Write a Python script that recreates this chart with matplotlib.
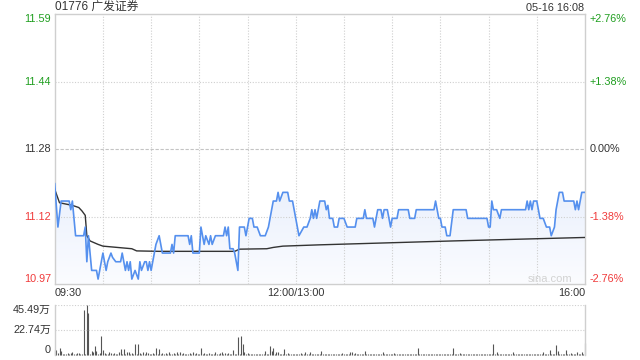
import numpy as np
import matplotlib.pyplot as plt
from matplotlib.patches import Polygon
from matplotlib.colors import LinearSegmentedColormap

plt.rcParams['font.family'] = ['Liberation Sans', 'Noto Sans CJK SC']

prev_close = 11.28
title_txt = '01776 广发证券'
stamp_txt = '05-16 16:08'

# minutes from 09:30 (0..330, 12:00/13:00 = 150)
price_t = [0, 2, 4, 9, 10, 11, 12, 13, 18, 19, 20, 21, 23, 26, 27, 28, 30, 32, 33, 35,
           36, 38, 41, 42, 44, 45, 46, 47, 48, 50, 52, 53, 54, 56, 57, 58, 59, 60, 62, 63,
           65, 66, 67, 72, 73, 74, 75, 82, 83, 84, 85, 86, 90, 91, 93, 94, 96, 97, 98, 100,
           105, 106, 107, 108, 109, 111, 112, 114, 115, 118, 119, 121, 123, 124, 126, 128, 131, 133, 134, 136,
           138, 139, 140, 142, 145, 146, 148, 150, 152, 155, 157, 159, 160, 161, 162, 163, 165, 168, 169, 170,
           171, 173, 174, 176, 177, 180, 182, 187, 188, 192, 193, 194, 198, 199, 201, 203, 204, 205, 207, 209,
           210, 213, 214, 220, 221, 224, 225, 236, 237, 238, 239, 240, 241, 243, 244, 246, 248, 256, 257, 269,
           270, 271, 272, 273, 275, 277, 278, 293, 294, 295, 296, 297, 298, 300, 301, 302, 304, 306, 308, 309,
           311, 312, 313, 314, 316, 317, 323, 324, 325, 326, 327, 328, 330]
price_v = [11.20, 11.10, 11.16, 11.16, 11.14, 11.16, 11.12, 11.08, 11.08, 11.10, 11.02, 11.08, 11.00, 11.00, 10.98, 11.00, 11.04, 11.00, 11.02, 11.04,
           11.03, 11.02, 11.02, 11.04, 11.00, 11.02, 11.00, 11.02, 10.98, 11.00, 10.98, 11.02, 11.00, 11.02, 11.02, 11.00, 11.02, 11.00, 11.04, 11.06,
           11.08, 11.06, 11.04, 11.04, 11.06, 11.04, 11.08, 11.08, 11.08, 11.06, 11.08, 11.04, 11.04, 11.10, 11.06, 11.08, 11.06, 11.08, 11.06, 11.08,
           11.08, 11.10, 11.08, 11.10, 11.05, 11.05, 11.04, 11.00, 11.10, 11.10, 11.08, 11.12, 11.12, 11.10, 11.10, 11.08, 11.08, 11.10, 11.12, 11.16,
           11.16, 11.18, 11.16, 11.18, 11.18, 11.16, 11.16, 11.12, 11.08, 11.10, 11.10, 11.12, 11.14, 11.12, 11.14, 11.12, 11.16, 11.16, 11.14, 11.15,
           11.12, 11.12, 11.10, 11.10, 11.12, 11.12, 11.10, 11.10, 11.12, 11.12, 11.14, 11.12, 11.12, 11.10, 11.14, 11.14, 11.12, 11.14, 11.14, 11.10,
           11.12, 11.12, 11.14, 11.14, 11.12, 11.12, 11.14, 11.14, 11.16, 11.14, 11.12, 11.12, 11.10, 11.10, 11.08, 11.08, 11.14, 11.14, 11.12, 11.12,
           11.10, 11.10, 11.16, 11.14, 11.14, 11.12, 11.14, 11.14, 11.16, 11.14, 11.16, 11.14, 11.16, 11.16, 11.14, 11.12, 11.12, 11.10, 11.10, 11.08,
           11.10, 11.14, 11.16, 11.18, 11.18, 11.16, 11.16, 11.14, 11.16, 11.14, 11.16, 11.18, 11.18]

avg_t = [0, 3, 11, 15, 17, 19, 20, 22, 27, 30, 48, 51, 65, 112, 115, 132, 136, 142, 165, 248, 330]
avg_v = [11.187, 11.156, 11.15, 11.145, 11.137, 11.127, 11.08, 11.068, 11.06, 11.056, 11.05, 11.045, 11.044, 11.044,
         11.049, 11.05, 11.053, 11.056, 11.059, 11.068, 11.076]

# volume per minute, 万股
vol = [4.2, 4.2, 1.5, 6.7, 4.0, 0.8, 0.6, 1.0, 2.0, 1.1,
       2.0, 3.0, 0.9, 1.2, 2.0, 2.0, 1.0, 0.8, 40.6, 1.0,
       45.49, 38.5, 1.2, 4.0, 3.0, 8.2, 3.6, 1.0, 1.5, 17.3,
       4.8, 1.8, 0.7, 1.2, 3.0, 1.5, 0.8, 1.5, 0.9, 1.0,
       3.0, 5.8, 1.0, 5.8, 1.2, 2.5, 2.5, 0.9, 1.8, 1.0,
       10.3, 1.1, 10.3, 2.0, 1.0, 2.5, 1.1, 3.0, 1.8, 0.9,
       1.0, 1.8, 0.8, 6.7, 1.0, 5.8, 0.8, 1.5, 0.9, 1.8,
       1.0, 2.5, 0.8, 1.0, 1.8, 0.9, 2.7, 1.0, 3.0, 0.8,
       1.8, 0.7, 1.2, 0.9, 1.5, 0.8, 2.5, 1.0, 1.8, 0.7,
       0.9, 6.0, 1.0, 1.5, 0.8, 0.9, 1.5, 0.7, 1.2, 0.9,
       2.5, 0.8, 1.0, 1.5, 2.5, 0.9, 1.8, 0.8, 1.5, 0.9,
       1.0, 4.8, 0.8, 1.0, 16.7, 1.2, 17.6, 10.3, 3.0, 0.9,
       1.8, 0.8, 1.0, 0.7, 1.2, 0.9, 1.0, 0.8, 1.1, 0.7,
       0.9, 4.0, 0.8, 1.0, 8.5, 3.6, 6.7, 1.0, 2.7, 3.0,
       1.0, 0.8, 1.2, 5.8, 0.9, 1.5, 0.8, 1.0, 0.7, 0.9,
       1.2, 0.8, 1.0, 2.0, 0.9, 0.8, 3.0, 1.0, 0.7, 3.0,
       0.9, 1.0, 0.8, 1.2, 0.9, 0.7, 4.0, 1.0, 0.8, 0.9,
       1.1, 0.7, 0.9, 1.0, 0.8, 1.2, 0.9, 0.7, 1.0, 2.0,
       0.8, 1.0, 0.9, 1.2, 3.0, 3.0, 0.8, 2.0, 1.0, 0.7,
       0.9, 1.0, 1.2, 4.0, 0.8, 0.9, 1.0, 0.7, 1.1, 0.8,
       0.9, 1.0, 0.8, 1.2, 3.0, 0.9, 0.7, 1.0, 0.8, 0.9,
       1.1, 2.0, 0.8, 0.9, 1.0, 0.7, 1.2, 0.8, 0.9, 1.0,
       0.8, 1.1, 0.7, 0.9, 1.0, 0.8, 6.7, 0.9, 1.0, 0.7,
       1.2, 0.8, 0.9, 1.0, 0.7, 1.1, 0.8, 0.9, 1.0, 0.8,
       0.9, 1.2, 0.7, 0.8, 1.0, 0.9, 1.1, 0.8, 6.7, 1.0,
       0.8, 0.9, 2.0, 1.0, 0.7, 0.8, 1.1, 0.9, 1.0, 0.8,
       0.7, 1.0, 0.9, 1.2, 0.8, 0.9, 1.0, 0.7, 1.1, 0.8,
       0.9, 1.0, 0.8, 10.3, 1.0, 3.0, 0.9, 0.8, 1.0, 0.7,
       1.1, 0.8, 0.9, 1.0, 0.8, 3.0, 0.9, 0.7, 1.0, 0.8,
       0.9, 1.2, 0.8, 1.0, 0.7, 0.9, 1.1, 0.8, 1.0, 0.9,
       0.8, 1.0, 0.9, 1.2, 3.0, 0.8, 1.0, 0.9, 4.2, 1.0,
       0.8, 1.2, 9.4, 3.6, 1.0, 0.9, 1.2, 0.8, 4.8, 1.0,
       0.9, 2.0, 1.0, 0.8, 1.2, 2.7, 1.0, 0.9, 3.0, 1.2,
       11.2]

pct_levels = [0.0276, 0.0138, 0.0, -0.0138, -0.0276]
left_labels = ['11.59', '11.44', '11.28', '11.12', '10.97']
right_labels = ['+2.76%', '+1.38%', '0.00%', '-1.38%', '-2.76%']
x_ticks = [0, 150, 330]
x_labels = ['09:30', '12:00/13:00', '16:00']
vol_max = 45.49
vol_ticks = [45.49, 22.745, 0]
vol_labels = ['45.49万', '22.74万', '0']

GREEN = '#1f9e1f'
RED = '#f03a3a'
DARK = '#333333'
GRID = '#cfcfcf'

levels = [prev_close * (1 + p) for p in pct_levels]
ylo, yhi = levels[-1], levels[0]

fig = plt.figure(figsize=(6.4, 3.6), dpi=100)
W = (585 - 54.7) / 640
ax = fig.add_axes([54.7 / 640, 1 - 284 / 360, W, 270 / 360])

# gradient fill under the price line
cmap = LinearSegmentedColormap.from_list('fill', ['#fbfcff', '#ccdcf8'])
grad = np.linspace(0, 1, 256).reshape(-1, 1)
img = ax.imshow(grad, extent=[0, 330, ylo, yhi], origin='lower', aspect='auto',
                cmap=cmap, zorder=1)
poly = Polygon(np.column_stack([price_t + [price_t[-1], price_t[0]],
                                price_v + [ylo, ylo]]),
               closed=True, facecolor='none', edgecolor='none', transform=ax.transData)
ax.add_patch(poly)
img.set_clip_path(poly)

for t in range(30, 330, 30):
    ax.axvline(t, color=GRID, lw=0.8, ls=(0, (1, 1.5)), zorder=2)
for i in (1, 3):
    ax.axhline(levels[i], color=GRID, lw=0.8, ls=(0, (1, 1.5)), zorder=2)
ax.axhline(levels[2], color='#c4c4c4', lw=0.8, ls=(0, (3, 1.5)), zorder=2)

ax.plot(avg_t, avg_v, color=DARK, lw=1.0, zorder=3)
ax.plot(price_t, price_v, color='#5590ee', lw=1.2, zorder=4)

ax.set_xlim(0, 330)
ax.set_ylim(ylo, yhi)
ax.set_xticks([])
ax.set_yticks([])
for s in ax.spines.values():
    s.set_color(GRID)
    s.set_linewidth(1)

fs = 7.8
ytr = ax.get_yaxis_transform()
colors = [GREEN, GREEN, DARK, RED, RED]
vas = ['top', 'center', 'center', 'center', 'bottom']
for lv, l, r, c, va in zip(levels, left_labels, right_labels, colors, vas):
    ax.text(-0.007, lv, l, transform=ytr, ha='right', va=va, color=c, fontsize=fs)
    ax.text(1.009, lv, r, transform=ytr, ha='left', va=va, color=c, fontsize=fs)

xtr = ax.get_xaxis_transform()
for t, lab, ha in zip(x_ticks, x_labels, ['left', 'center', 'right']):
    ax.text(t, -0.034, lab, transform=xtr, ha=ha, va='center', color=DARK, fontsize=fs)

ax.text(0, 1.022, title_txt, transform=ax.transAxes, ha='left', va='center',
        color=DARK, fontsize=8.5)
ax.text(0.998, 1.022, stamp_txt, transform=ax.transAxes, ha='right', va='center',
        color=DARK, fontsize=fs)
ax.text(0.977, 0.02, 'sina.com', transform=ax.transAxes, ha='right', va='center',
        color='#d2d2d2', fontsize=8)

# volume panel
vx = fig.add_axes([54.7 / 640, 1 - 355 / 360, W, 50 / 360])
minutes = np.arange(len(vol))
vx.vlines(minutes, 0, vol, color='#555555', lw=0.8, clip_on=False)
vx.set_xlim(0, 330)
vx.set_ylim(0, vol_max)
vx.axhline(vol_max / 2, color=GRID, lw=0.8, ls=(0, (1, 1.5)))
vx.axhline(vol_max, color=GRID, lw=0.8, ls=(0, (1, 1.5)))
vx.set_xticks([])
vx.set_yticks([])
for k in ('top', 'bottom'):
    vx.spines[k].set_visible(False)
for k in ('left', 'right'):
    vx.spines[k].set_color(GRID)
    vx.spines[k].set_linewidth(1)
vtr = vx.get_yaxis_transform()
for v, lab, va in zip(vol_ticks, vol_labels, ['top', 'center', 'bottom']):
    vx.text(-0.007, v, lab, transform=vtr, ha='right', va=va, color=DARK, fontsize=fs)

fig.savefig('out.png', dpi=100)
